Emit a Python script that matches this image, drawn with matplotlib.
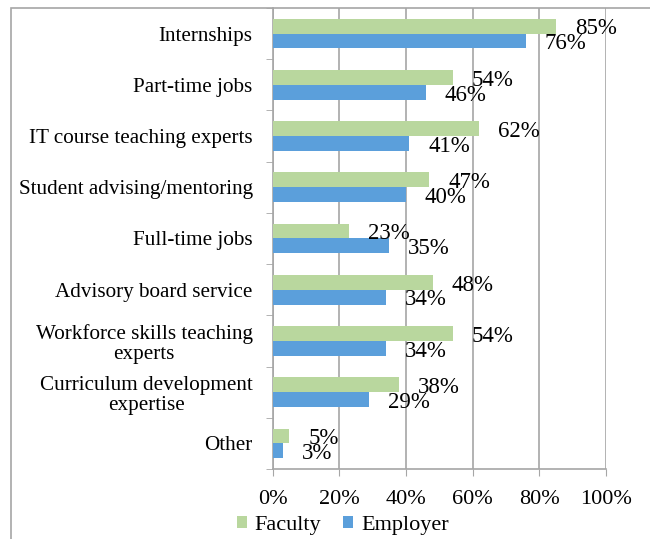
import numpy as np
import matplotlib.pyplot as plt
from matplotlib.patches import Rectangle

categories = [
    "Internships",
    "Part-time jobs",
    "IT course teaching experts",
    "Student advising/mentoring",
    "Full-time jobs",
    "Advisory board service",
    "Workforce skills teaching\nexperts",
    "Curriculum development\nexpertise",
    "Other",
]
faculty = [85, 54, 62, 47, 23, 48, 54, 38, 5]
employer = [76, 46, 41, 40, 35, 34, 34, 29, 3]
xticks = [0, 20, 40, 60, 80, 100]

green = "#B9D79E"
blue = "#5B9FDB"
gray = "#A6A6A6"

plt.rcParams["font.family"] = ["Liberation Serif", "DejaVu Serif"]

fig = plt.figure(figsize=(6.5, 5.39), dpi=100)
ax = fig.add_axes([272.7 / 650, 1 - 469 / 539, (606 - 272.7) / 650, (469 - 8) / 539])

# outer chart border
fig.patches.append(Rectangle((11 / 650, -0.1), 1.2, 1 - 8 / 539 + 0.1,
                             transform=fig.transFigure, fill=False,
                             edgecolor=gray, linewidth=1.2))

y = np.arange(len(categories))
h = 0.29
ax.barh(y - h / 2, faculty, height=h, color=green, label="Faculty", zorder=3)
ax.barh(y + h / 2, employer, height=h, color=blue, label="Employer", zorder=3)

# data labels, a bit below bar centre like the original
for yi, v in zip(y, faculty):
    ax.annotate(f"{v}%", (v, yi - h / 2), xytext=(13.5, -2), textcoords="offset points",
                va="center", ha="left", fontsize=16.5, zorder=4)
for yi, v in zip(y, employer):
    ax.annotate(f"{v}%", (v, yi + h / 2), xytext=(13.5, -2), textcoords="offset points",
                va="center", ha="left", fontsize=16.5, zorder=4)

ax.set_xlim(0, 100)
ax.set_ylim(len(categories) - 0.5, -0.5)
ax.set_xticks(xticks)
ax.set_xticklabels([f"{t}%" for t in xticks], fontsize=16)
ax.set_yticks(y)
ax.set_yticklabels(categories, fontsize=15.2, ha="right", multialignment="center",
                   linespacing=1.1)
ax.tick_params(axis="y", length=0, pad=14.4)
ax.set_yticks(np.arange(len(categories) + 1) - 0.5, minor=True)
ax.tick_params(axis="y", which="minor", length=5, color=gray, direction="out")
ax.tick_params(axis="x", length=5, color=gray, direction="out", pad=10)

ax.grid(axis="x", color=gray, linewidth=1.2, zorder=0)
for s in ["top", "right"]:
    ax.spines[s].set_visible(False)
for s in ["left", "bottom"]:
    ax.spines[s].set_color(gray)
    ax.spines[s].set_linewidth(1.2)

fig.legend(loc="lower center", bbox_to_anchor=(0.527, -0.03), ncol=2, frameon=False,
           fontsize=16, handlelength=0.45, handleheight=0.45, handletextpad=0.35,
           columnspacing=1.0)

fig.savefig("out.png", dpi=100)
